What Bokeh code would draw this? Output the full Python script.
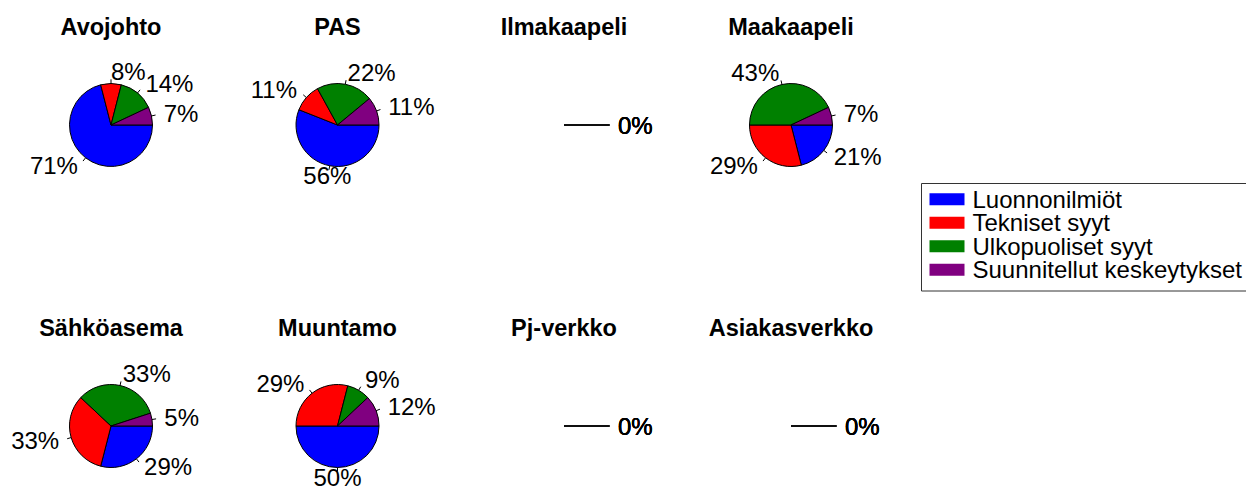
import math
from bokeh.plotting import figure
from bokeh.models import Range1d, ColumnDataSource
from bokeh.core.properties import value
from bokeh.embed import file_html
from bokeh.resources import INLINE

# ---- data ----
categories = ["Luonnonilmiöt", "Tekniset syyt", "Ulkopuoliset syyt", "Suunnitellut keskeytykset"]
colors = ["#0000FF", "#FF0000", "#008000", "#800080"]
panels = ["Avojohto", "PAS", "Ilmakaapeli", "Maakaapeli",
          "Sähköasema", "Muuntamo", "Pj-verkko", "Asiakasverkko"]
luonnonilmiot = [71, 56, 0, 21, 29, 50, 0, 0]
tekniset = [8, 11, 0, 29, 33, 29, 0, 0]
ulkopuoliset = [14, 22, 0, 43, 33, 9, 0, 0]
suunnitellut = [7, 11, 0, 7, 5, 12, 0, 0]
series = [luonnonilmiot, tekniset, ulkopuoliset, suunnitellut]

# ---- layout (reference pixel coordinates) ----
W, H = 1246, 486
col_x = [110.5, 337.0, 563.5, 790.5]
row_y = [124.5, 425.5]
title_y = [26.0, 327.0]
R = 41.5
FONT = "Liberation Sans"

def X(px):
    return px

def Y(py):
    return H - py

p = figure(width=W, height=H, x_range=Range1d(0, W), y_range=Range1d(0, H),
           x_axis_type=None, y_axis_type=None, output_backend="svg",
           toolbar_location=None, min_border=0)
p.grid.visible = False
p.outline_line_color = None
p.background_fill_color = "white"
p.border_fill_color = "white"

wx, wy, ws, we, wc = [], [], [], [], []
sx0, sy0, sx1, sy1 = [], [], [], []
lx, ly, lt, la = [], [], [], []
tx, ty, tt = [], [], []

for i, name in enumerate(panels):
    cx = X(col_x[i % 4])
    cy = Y(row_y[i // 4])
    tx.append(cx)
    ty.append(Y(title_y[i // 4]))
    tt.append(name)
    vals = [s[i] for s in series]
    total = sum(vals)
    cum = 0.0
    for k, v in enumerate(vals):
        if total > 0:
            f0 = cum / total
            f1 = (cum + v) / total
            cum += v
            wx.append(cx); wy.append(cy)
            ws.append(-f1 * 2 * math.pi)
            we.append(-f0 * 2 * math.pi)
            wc.append(colors[k])
            mid = -(f0 + f1) * math.pi
            r0 = R
        else:
            mid = 0.0
            r0 = 0.0
        c, s = math.cos(mid), math.sin(mid)
        sx0.append(cx + r0 * c); sy0.append(cy + r0 * s)
        sx1.append(cx + 1.1 * R * c); sy1.append(cy + 1.1 * R * s)
        lx.append(cx + 1.3 * R * c)
        ly.append(cy + (1.3 if s >= 0 else 1.24) * R * s)
        lt.append(f"{v}%")
        if s < -0.95:
            la.append("center")
        elif c > -1e-9:
            la.append("left")
        else:
            la.append("right")

p.wedge(x="x", y="y", radius=R, start_angle="s", end_angle="e", direction="anticlock",
        fill_color="c", line_color="black", line_width=1,
        source=ColumnDataSource(dict(x=wx, y=wy, s=ws, e=we, c=wc)))
p.segment(x0=sx0, y0=sy0, x1=sx1, y1=sy1, line_color="black", line_width=1)
p.text(x="x", y="y", text="t", text_align="a", source=ColumnDataSource(dict(x=lx, y=ly, t=lt, a=la)),
       text_baseline="middle", text_font=value(FONT), text_font_size="24px", text_color="black")
p.text(x=tx, y=ty, text=tt, text_align="center", text_baseline="middle",
       text_font=value(FONT), text_font_size="23.5px", text_font_style="bold", text_color="black")

# ---- legend (drawn by hand, R style) ----
leg_left, leg_top, leg_bottom = 921, 183, 290.5
p.quad(left=[X(leg_left)], right=[X(1300)], top=[Y(leg_top)], bottom=[Y(leg_bottom)],
       fill_color=None, line_color="#333333", line_width=1)
row0, dy = 198.7, 23.5
ly_rows = [Y(row0 + k * dy) for k in range(len(categories))]
p.rect(x=[X(946.5)] * len(categories), y=ly_rows, width=35, height=12,
       fill_color=colors, line_color=None)
p.text(x=[X(972)] * len(categories), y=ly_rows, text=categories, text_align="left",
       text_baseline="middle", text_font=value(FONT), text_font_size="24px", text_color="black")

open("out.html", "w").write(file_html(p, INLINE))
